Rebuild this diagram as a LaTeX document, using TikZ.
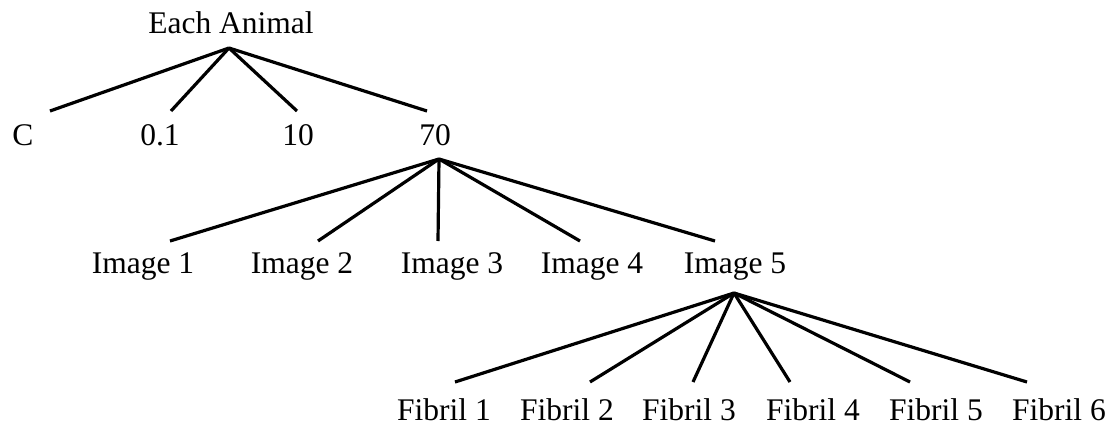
\documentclass[tikz,border=0pt]{standalone}
\usepackage{fontspec}
\setmainfont{Liberation Serif}
\usepackage{tikz}
\usetikzlibrary{positioning}

\begin{document}
\begin{tikzpicture}[x=1pt,y=-1pt,line width=3.2pt]
	  \tikzstyle{every node}=[inner sep=0pt,anchor=base,font=\fontsize{31.5}{36}\selectfont]
	  \useasboundingbox (0,0) rectangle (1117,426);

	  % top level
	  \node (ea) at (231,33) {Each Animal};
	  \node (c)   at (23,145)  {C};
	  \node (p1)  at (160,145) {0.1};
	  \node (p10) at (298,145) {10};
	  \node (p70) at (435,145) {70};

	  % images
	  \node (im1) at (143,273) {Image 1};
	  \node (im2) at (302,273) {Image 2};
	  \node (im3) at (452,273) {Image 3};
	  \node (im4) at (592,273) {Image 4};
	  \node (im5) at (735,273) {Image 5};

	  % fibrils
	  \node (f1) at (444,420)  {Fibril 1};
	  \node (f2) at (567,420)  {Fibril 2};
	  \node (f3) at (689,420)  {Fibril 3};
	  \node (f4) at (813,420)  {Fibril 4};
	  \node (f5) at (936,420)  {Fibril 5};
	  \node (f6) at (1059,420) {Fibril 6};

	  \coordinate (top0) at ([shift={(-2,15)}]ea.base);
	  \coordinate (top1) at ([shift={(4,14)}]p70.base);
	  \coordinate (top2) at ([shift={(-1,20)}]im5.base);

	  \path (top0) edge ([shift={(27,-34)}]c.base)
	               edge ([shift={(11,-34)}]p1.base)
	               edge ([shift={(-1,-34)}]p10.base)
	               edge ([shift={(-8,-34)}]p70.base)
	        (top1) edge ([shift={(27,-32)}]im1.base)
	               edge ([shift={(16,-32)}]im2.base)
	               edge ([shift={(-14,-32)}]im3.base)
	               edge ([shift={(-12,-32)}]im4.base)
	               edge ([shift={(-20,-32)}]im5.base)
	        (top2) edge ([shift={(11,-38)}]f1.base)
	               edge ([shift={(23,-38)}]f2.base)
	               edge ([shift={(4,-38)}]f3.base)
	               edge ([shift={(-23,-38)}]f4.base)
	               edge ([shift={(-26,-38)}]f5.base)
	               edge ([shift={(-32,-38)}]f6.base);
	\end{tikzpicture}
\end{document}
